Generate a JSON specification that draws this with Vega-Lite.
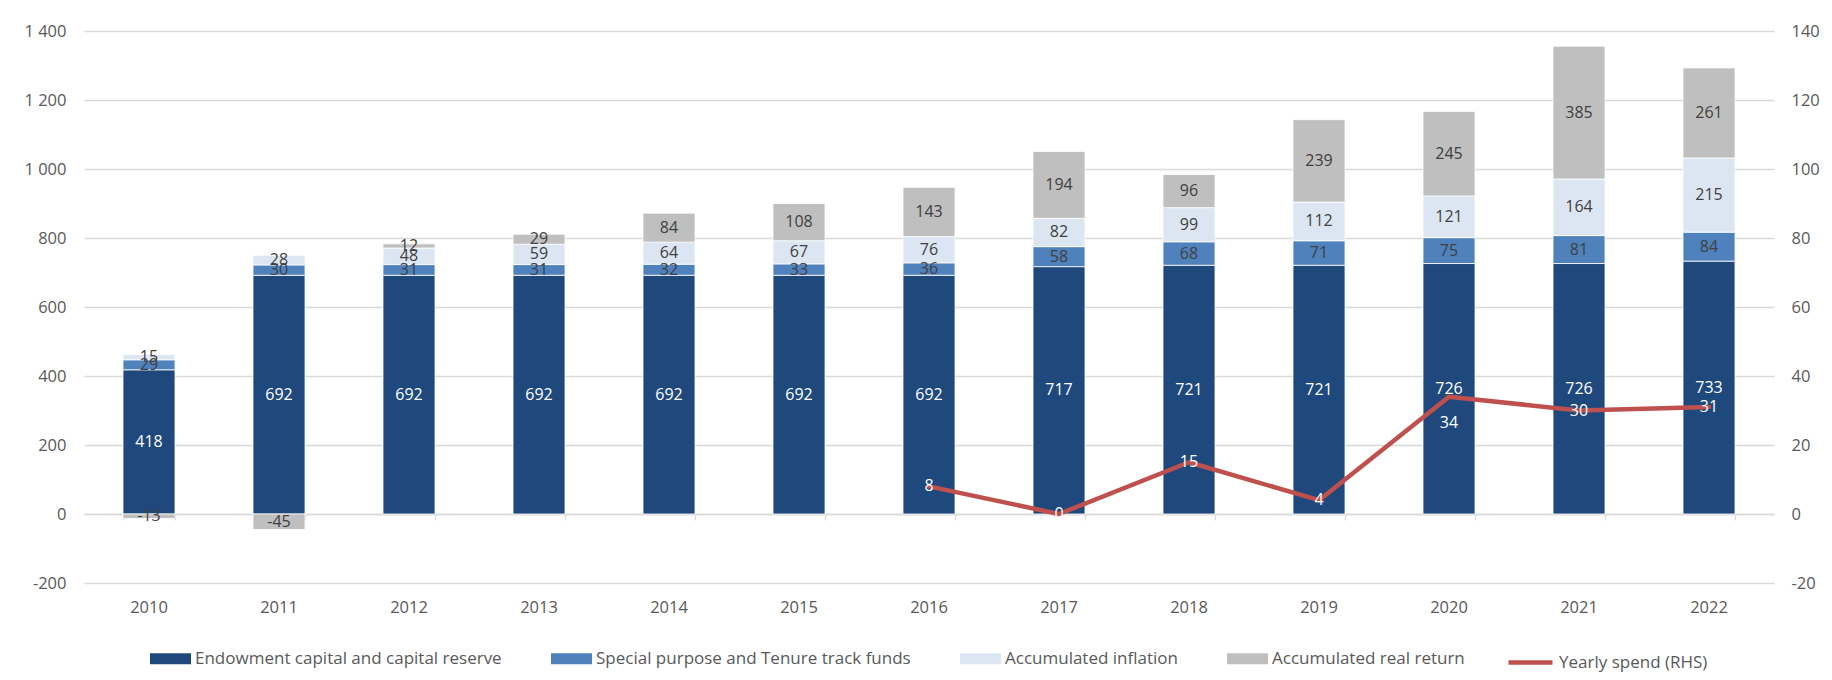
{
  "$schema": "https://vega.github.io/schema/vega-lite/v6.json",
  "width": 1690,
  "height": 552,
  "autosize": "none",
  "padding": {"left": 84, "top": 31, "right": 58, "bottom": 97},
  "background": "white",
  "config": {
    "font": "Open Sans",
    "view": {"stroke": null},
    "axis": {"labelFont": "Open Sans", "labelFontSize": 16.5, "labelColor": "#595959", "domain": false, "ticks": false, "title": null}
  },
  "data": {
    "values": [
      {"year": "2010", "series": "Endowment capital and capital reserve", "value": 418},
      {"year": "2010", "series": "Special purpose and Tenure track funds", "value": 29},
      {"year": "2010", "series": "Accumulated inflation", "value": 15},
      {"year": "2010", "series": "Accumulated real return", "value": -13},
      {"year": "2011", "series": "Endowment capital and capital reserve", "value": 692},
      {"year": "2011", "series": "Special purpose and Tenure track funds", "value": 30},
      {"year": "2011", "series": "Accumulated inflation", "value": 28},
      {"year": "2011", "series": "Accumulated real return", "value": -45},
      {"year": "2012", "series": "Endowment capital and capital reserve", "value": 692},
      {"year": "2012", "series": "Special purpose and Tenure track funds", "value": 31},
      {"year": "2012", "series": "Accumulated inflation", "value": 48},
      {"year": "2012", "series": "Accumulated real return", "value": 12},
      {"year": "2013", "series": "Endowment capital and capital reserve", "value": 692},
      {"year": "2013", "series": "Special purpose and Tenure track funds", "value": 31},
      {"year": "2013", "series": "Accumulated inflation", "value": 59},
      {"year": "2013", "series": "Accumulated real return", "value": 29},
      {"year": "2014", "series": "Endowment capital and capital reserve", "value": 692},
      {"year": "2014", "series": "Special purpose and Tenure track funds", "value": 32},
      {"year": "2014", "series": "Accumulated inflation", "value": 64},
      {"year": "2014", "series": "Accumulated real return", "value": 84},
      {"year": "2015", "series": "Endowment capital and capital reserve", "value": 692},
      {"year": "2015", "series": "Special purpose and Tenure track funds", "value": 33},
      {"year": "2015", "series": "Accumulated inflation", "value": 67},
      {"year": "2015", "series": "Accumulated real return", "value": 108},
      {"year": "2016", "series": "Endowment capital and capital reserve", "value": 692},
      {"year": "2016", "series": "Special purpose and Tenure track funds", "value": 36},
      {"year": "2016", "series": "Accumulated inflation", "value": 76},
      {"year": "2016", "series": "Accumulated real return", "value": 143},
      {"year": "2017", "series": "Endowment capital and capital reserve", "value": 717},
      {"year": "2017", "series": "Special purpose and Tenure track funds", "value": 58},
      {"year": "2017", "series": "Accumulated inflation", "value": 82},
      {"year": "2017", "series": "Accumulated real return", "value": 194},
      {"year": "2018", "series": "Endowment capital and capital reserve", "value": 721},
      {"year": "2018", "series": "Special purpose and Tenure track funds", "value": 68},
      {"year": "2018", "series": "Accumulated inflation", "value": 99},
      {"year": "2018", "series": "Accumulated real return", "value": 96},
      {"year": "2019", "series": "Endowment capital and capital reserve", "value": 721},
      {"year": "2019", "series": "Special purpose and Tenure track funds", "value": 71},
      {"year": "2019", "series": "Accumulated inflation", "value": 112},
      {"year": "2019", "series": "Accumulated real return", "value": 239},
      {"year": "2020", "series": "Endowment capital and capital reserve", "value": 726},
      {"year": "2020", "series": "Special purpose and Tenure track funds", "value": 75},
      {"year": "2020", "series": "Accumulated inflation", "value": 121},
      {"year": "2020", "series": "Accumulated real return", "value": 245},
      {"year": "2021", "series": "Endowment capital and capital reserve", "value": 726},
      {"year": "2021", "series": "Special purpose and Tenure track funds", "value": 81},
      {"year": "2021", "series": "Accumulated inflation", "value": 164},
      {"year": "2021", "series": "Accumulated real return", "value": 385},
      {"year": "2022", "series": "Endowment capital and capital reserve", "value": 733},
      {"year": "2022", "series": "Special purpose and Tenure track funds", "value": 84},
      {"year": "2022", "series": "Accumulated inflation", "value": 215},
      {"year": "2022", "series": "Accumulated real return", "value": 261},
      {"year": "2016", "series": "Yearly spend (RHS)", "value": 8},
      {"year": "2017", "series": "Yearly spend (RHS)", "value": 0},
      {"year": "2018", "series": "Yearly spend (RHS)", "value": 15},
      {"year": "2019", "series": "Yearly spend (RHS)", "value": 4},
      {"year": "2020", "series": "Yearly spend (RHS)", "value": 34},
      {"year": "2021", "series": "Yearly spend (RHS)", "value": 30},
      {"year": "2022", "series": "Yearly spend (RHS)", "value": 31}
    ]
  },
  "transform": [
    {"calculate": "indexof(['Endowment capital and capital reserve','Special purpose and Tenure track funds','Accumulated inflation','Accumulated real return','Yearly spend (RHS)'], datum.series)", "as": "ord"},
    {"calculate": "'' + datum.value", "as": "label"}
  ],
  "resolve": {"scale": {"y": "independent"}, "axis": {"x": "independent"}},
  "layer": [
    {
      "transform": [
        {"filter": "datum.ord < 4"},
        {"stack": "value", "groupby": ["year"], "sort": [{"field": "ord", "order": "ascending"}], "as": ["v0", "v1"]},
        {"calculate": "(datum.v0 + datum.v1) / 2", "as": "mid"}
      ],
      "encoding": {
        "x": {
          "field": "year", "type": "ordinal",
          "scale": {"paddingInner": 0.6, "paddingOuter": 0.3},
          "axis": {"orient": "bottom", "labelAngle": 0, "labelPadding": 16, "grid": false}
        }
      },
      "layer": [
        {
          "mark": {"type": "bar", "stroke": "white", "strokeWidth": 0.8},
          "encoding": {
            "y": {
              "field": "v0", "type": "quantitative",
              "scale": {"domain": [-200, 1400], "nice": false, "zero": false},
              "axis": {
                "orient": "left",
                "values": [-200, 0, 200, 400, 600, 800, 1000, 1200, 1400],
                "grid": true, "gridColor": "#d9d9d9", "gridWidth": 1.3,
                "labelPadding": 18,
                "labelExpr": "(datum.value < 0 ? '-' : '') + replace(format(abs(datum.value), ','), ',', ' ')"
              }
            },
            "y2": {"field": "v1"},
            "color": {
              "field": "series", "type": "nominal",
              "scale": {
                "domain": ["Endowment capital and capital reserve", "Special purpose and Tenure track funds", "Accumulated inflation", "Accumulated real return"],
                "range": ["#1f497d", "#4f81bd", "#dce6f2", "#bfbfbf"]
              },
              "legend": {
                "orient": "none", "legendX": 66, "legendY": 607,
                "direction": "horizontal", "title": null,
                "labelFont": "Open Sans", "labelFontSize": 17, "labelColor": "#595959",
                "labelLimit": 500, "labelOffset": 4,
                "symbolSize": 1681, "symbolType": "M-1,-0.268H1V0.268H-1Z",
                "symbolStrokeWidth": 0, "symbolOpacity": 1, "columnPadding": 49
              }
            }
          }
        },
        {
          "mark": {"type": "text", "font": "Open Sans", "fontSize": 16, "align": "center", "baseline": "middle"},
          "encoding": {
            "y": {"field": "mid", "type": "quantitative"},
            "text": {"field": "label", "type": "nominal"},
            "color": {"condition": {"test": "datum.ord === 0", "value": "#ffffff"}, "value": "#404040"}
          }
        }
      ]
    },
    {
      "transform": [{"filter": "datum.ord === 4"}],
      "encoding": {
        "x": {
          "field": "year", "type": "ordinal",
          "axis": {
            "orient": "bottom", "offset": -69, "labels": false, "grid": false,
            "domain": true, "domainColor": "#d9d9d9", "domainWidth": 1.3,
            "ticks": true, "tickColor": "#d9d9d9", "tickWidth": 1.3, "tickSize": 6, "tickBand": "extent"
          }
        },
        "y": {
          "field": "value", "type": "quantitative",
          "scale": {"domain": [-20, 140], "nice": false, "zero": false},
          "axis": {
            "orient": "right",
            "values": [-20, 0, 20, 40, 60, 80, 100, 120, 140],
            "grid": false, "labelPadding": 17,
            "labelExpr": "(datum.value < 0 ? '-' : '') + format(abs(datum.value), 'd')"
          }
        }
      },
      "layer": [
        {
          "mark": {"type": "line", "strokeWidth": 4.5, "strokeCap": "round", "strokeJoin": "round"},
          "encoding": {
            "stroke": {
              "field": "series", "type": "nominal",
              "scale": {"domain": ["Yearly spend (RHS)"], "range": ["#c0504d"]},
              "legend": {
                "orient": "none", "legendX": 1422, "legendY": 607,
                "direction": "horizontal", "title": null,
                "labelFont": "Open Sans", "labelFontSize": 17, "labelColor": "#595959",
                "labelLimit": 500, "labelOffset": 4,
                "symbolSize": 1936, "symbolType": "stroke",
                "symbolStrokeWidth": 4.5, "symbolOpacity": 1
              }
            }
          }
        },
        {
          "transform": [{"filter": "datum.year !== '2020'"}],
          "mark": {"type": "text", "font": "Open Sans", "fontSize": 16, "align": "center", "baseline": "middle", "color": "#ffffff"},
          "encoding": {"text": {"field": "label", "type": "nominal"}}
        },
        {
          "transform": [{"filter": "datum.year === '2020'"}],
          "mark": {"type": "text", "font": "Open Sans", "fontSize": 16, "align": "center", "baseline": "middle", "color": "#ffffff", "dy": 26},
          "encoding": {"text": {"field": "label", "type": "nominal"}}
        }
      ]
    }
  ]
}
